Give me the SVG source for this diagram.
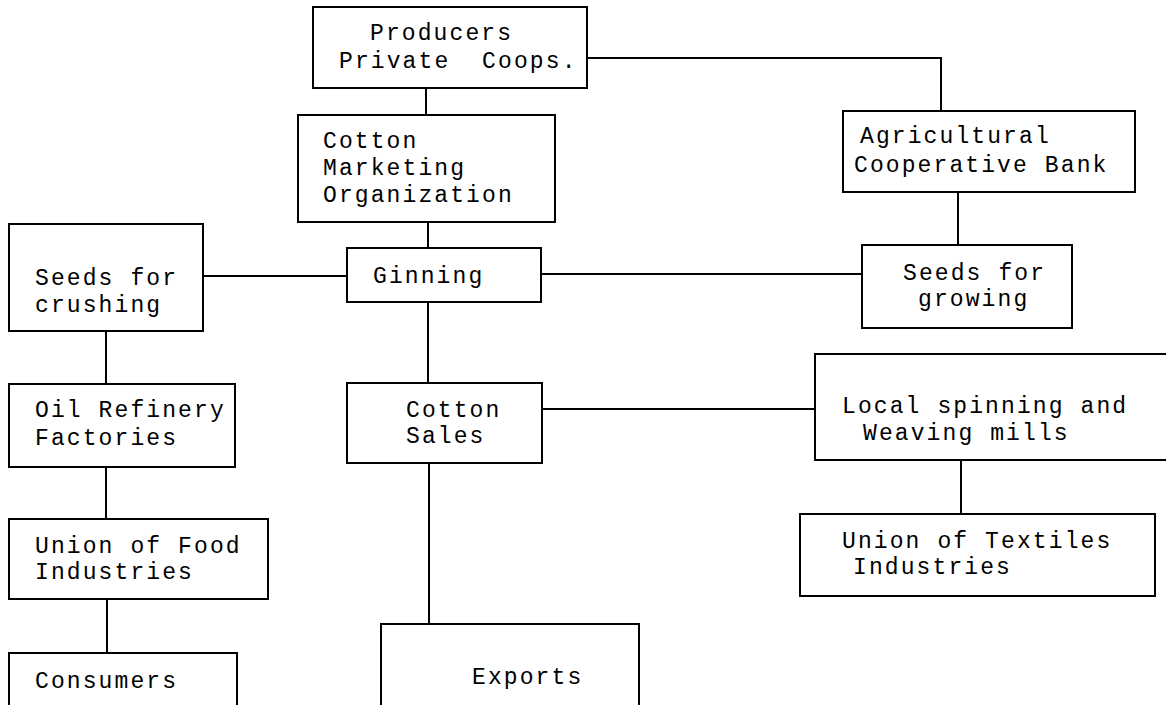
<svg xmlns="http://www.w3.org/2000/svg" width="1166" height="705" viewBox="0 0 1166 705">
<style>
.box{fill:#fff;stroke:#000;stroke-width:2}
.ln{fill:none;stroke:#000;stroke-width:2}
text{font-family:"Liberation Mono","Courier New",monospace;font-size:23px;letter-spacing:2.1px;fill:#000;white-space:pre}
</style>
<rect x="0" y="0" width="1166" height="705" fill="#fff"/>
<g id="connectors">
<path class="ln" d="M426 88V115"/>
<path class="ln" d="M587 58H941V111"/>
<path class="ln" d="M428 222V248"/>
<path class="ln" d="M958 192V245"/>
<path class="ln" d="M203 276H347"/>
<path class="ln" d="M541 274H862"/>
<path class="ln" d="M428 302V383"/>
<path class="ln" d="M542 409H815"/>
<path class="ln" d="M961 460V514"/>
<path class="ln" d="M106 331V384"/>
<path class="ln" d="M106 467V519"/>
<path class="ln" d="M107 599V653"/>
<path class="ln" d="M429 463V624"/>
</g>
<g id="producers"><rect class="box" x="313" y="7" width="274" height="81"/><text x="370" y="40">Producers</text><text x="339" y="68">Private  Coops.</text></g>
<g id="cmo"><rect class="box" x="298" y="115" width="257" height="107"/><text x="323" y="148">Cotton</text><text x="323" y="175">Marketing</text><text x="323" y="202">Organization</text></g>
<g id="agri-bank"><rect class="box" x="843" y="111" width="292" height="81"/><text x="860" y="143">Agricultural</text><text x="854" y="172">Cooperative Bank</text></g>
<g id="seeds-crushing"><rect class="box" x="9" y="224" width="194" height="107"/><text x="35" y="285">Seeds for</text><text x="35" y="312">crushing</text></g>
<g id="ginning"><rect class="box" x="347" y="248" width="194" height="54"/><text x="373" y="283">Ginning</text></g>
<g id="seeds-growing"><rect class="box" x="862" y="245" width="210" height="83"/><text x="903" y="280">Seeds for</text><text x="918" y="306">growing</text></g>
<g id="oil-refinery"><rect class="box" x="9" y="384" width="226" height="83"/><text x="35" y="417">Oil Refinery</text><text x="35" y="445">Factories</text></g>
<g id="cotton-sales"><rect class="box" x="347" y="383" width="195" height="80"/><text x="406" y="417">Cotton</text><text x="406" y="443">Sales</text></g>
<g id="local-mills"><rect class="box" x="815" y="354" width="360" height="106"/><text x="842" y="413">Local spinning and</text><text x="863" y="440">Weaving mills</text></g>
<g id="union-food"><rect class="box" x="9" y="519" width="259" height="80"/><text x="35" y="553">Union of Food</text><text x="35" y="579">Industries</text></g>
<g id="union-textiles"><rect class="box" x="800" y="514" width="355" height="82"/><text x="842" y="548">Union of Textiles</text><text x="853" y="574">Industries</text></g>
<g id="consumers"><rect class="box" x="9" y="653" width="228" height="60"/><text x="35" y="688">Consumers</text></g>
<g id="exports"><rect class="box" x="381" y="624" width="258" height="90"/><text x="472" y="684">Exports</text></g>
</svg>
